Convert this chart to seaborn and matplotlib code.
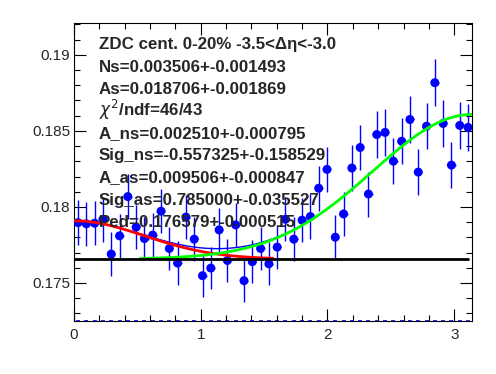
import numpy as np
import matplotlib
matplotlib.use('Agg')
import matplotlib.pyplot as plt
import seaborn as sns
from matplotlib.ticker import MultipleLocator, FormatStrFormatter

sns.set_style('ticks')
plt.rcParams['font.family'] = ['Liberation Sans', 'DejaVu Sans']

# ---- data ----
n_bins = 48
x_lo, x_hi = 0.0, np.pi
y_vals = [0.17897, 0.17889, 0.17893, 0.17919, 0.17690, 0.17810, 0.18068, 0.17867,
          0.17792, 0.17815, 0.17972, 0.17727, 0.17631, 0.17933, 0.17788, 0.17548,
          0.17598, 0.17849, 0.17648, 0.17882, 0.17515, 0.17640, 0.17727, 0.17626,
          0.17736, 0.17919, 0.17788, 0.17913, 0.17937, 0.18123, 0.18247, 0.17801,
          0.17954, 0.18256, 0.18391, 0.18085, 0.18476, 0.18490, 0.18301, 0.18432,
          0.18575, 0.18229, 0.18531, 0.18817, 0.18549, 0.18275, 0.18536, 0.18523]
y_errs = [0.00147, 0.00146, 0.00146, 0.00147, 0.00147, 0.00145, 0.00148, 0.00145,
          0.00144, 0.00145, 0.00146, 0.00143, 0.00142, 0.00146, 0.00144, 0.00137,
          0.00140, 0.00144, 0.00141, 0.00145, 0.00142, 0.00142, 0.00143, 0.00142,
          0.00143, 0.00146, 0.00144, 0.00146, 0.00146, 0.00148, 0.00150, 0.00145,
          0.00147, 0.00150, 0.00151, 0.00148, 0.00152, 0.00152, 0.00150, 0.00151,
          0.00153, 0.00150, 0.00152, 0.00153, 0.00152, 0.00150, 0.00152, 0.00152]

# fit parameters (from the legend text)
ped = 0.176579
a_ns, sig_ns = 0.002510, -0.557325
a_as, sig_as = 0.009506, 0.785000

info_lines = ['ZDC cent. 0-20% -3.5<\u0394\u03b7<-3.0',
              'Ns=0.003506+-0.001493',
              'As=0.018706+-0.001869',
              r'$\chi^{2}$/ndf=46/43',
              'A_ns=0.002510+-0.000795',
              'Sig_ns=-0.557325+-0.158529',
              'A_as=0.009506+-0.000847',
              'Sig_as=0.785000+-0.035527',
              'Ped=0.176579+-0.000515']

edges = np.linspace(x_lo, x_hi, n_bins + 1)
centers = 0.5 * (edges[1:] + edges[:-1])
half_w = 0.5 * (edges[1] - edges[0])

def near(x):
    return a_ns * np.exp(-x**2 / (2 * sig_ns**2))

def away(x):
    return a_as * np.exp(-(x - np.pi)**2 / (2 * sig_as**2))

fig = plt.figure(figsize=(4.96, 3.74), dpi=100)
ax = fig.add_axes([0.149, 0.1417, 0.803, 0.797])
y_lo, y_hi = 0.1725, 0.1921

ax.errorbar(centers, y_vals, yerr=y_errs, xerr=half_w, fmt='none',
            ecolor='#0000ff', elinewidth=1.0, capsize=0, zorder=2)
sns.scatterplot(x=centers, y=y_vals, color='#0000ff', s=42, edgecolor='none',
                ax=ax, zorder=3)
# little blue dashes just under the frame at every bin
ax.plot(centers, np.full(n_bins, y_lo - 0.00003), ls='none', marker='_',
        ms=3, mew=1.2, color='#0000ff', clip_on=False, zorder=1)

xf = np.linspace(x_lo, x_hi, 300)
sns.lineplot(x=xf, y=ped + near(xf) + away(xf), color='#0000ff', lw=1.0, ax=ax, zorder=4)
xr = np.linspace(0, np.pi / 2, 150)
sns.lineplot(x=xr, y=ped + near(xr), color='#ff0000', lw=2.0, ax=ax, zorder=5)
xg = np.linspace(np.pi / 6, np.pi, 250)
sns.lineplot(x=xg, y=ped + away(xg), color='#00ff00', lw=2.0, ax=ax, zorder=5)
ax.plot([0, centers[-1]], [ped, ped], color='black', lw=2.0, zorder=6)

ax.set_xlim(x_lo, x_hi)
ax.set_ylim(y_lo, y_hi)
ax.xaxis.set_major_locator(MultipleLocator(1))
ax.xaxis.set_minor_locator(MultipleLocator(0.2))
ax.yaxis.set_major_locator(MultipleLocator(0.005))
ax.yaxis.set_minor_locator(MultipleLocator(0.001))
ax.yaxis.set_major_formatter(FormatStrFormatter('%g'))
ax.tick_params(which='both', direction='in', top=True, right=True,
               labelsize=11, width=0.8, color='black')
ax.tick_params(axis='y', pad=2.5)
ax.tick_params(axis='x', pad=5)
ax.tick_params(which='major', length=8.5)
ax.tick_params(which='minor', length=4.3)
for s in ax.spines.values():
    s.set_linewidth(0.8)
    s.set_color('black')

for i, line in enumerate(info_lines):
    y_px = 49.3 + i * 22.2
    fig.text(99 / 496, 1 - y_px / 374, line, fontsize=12.2, fontweight='bold',
             va='baseline', ha='left', zorder=10)

fig.savefig('out.png', dpi=100)
